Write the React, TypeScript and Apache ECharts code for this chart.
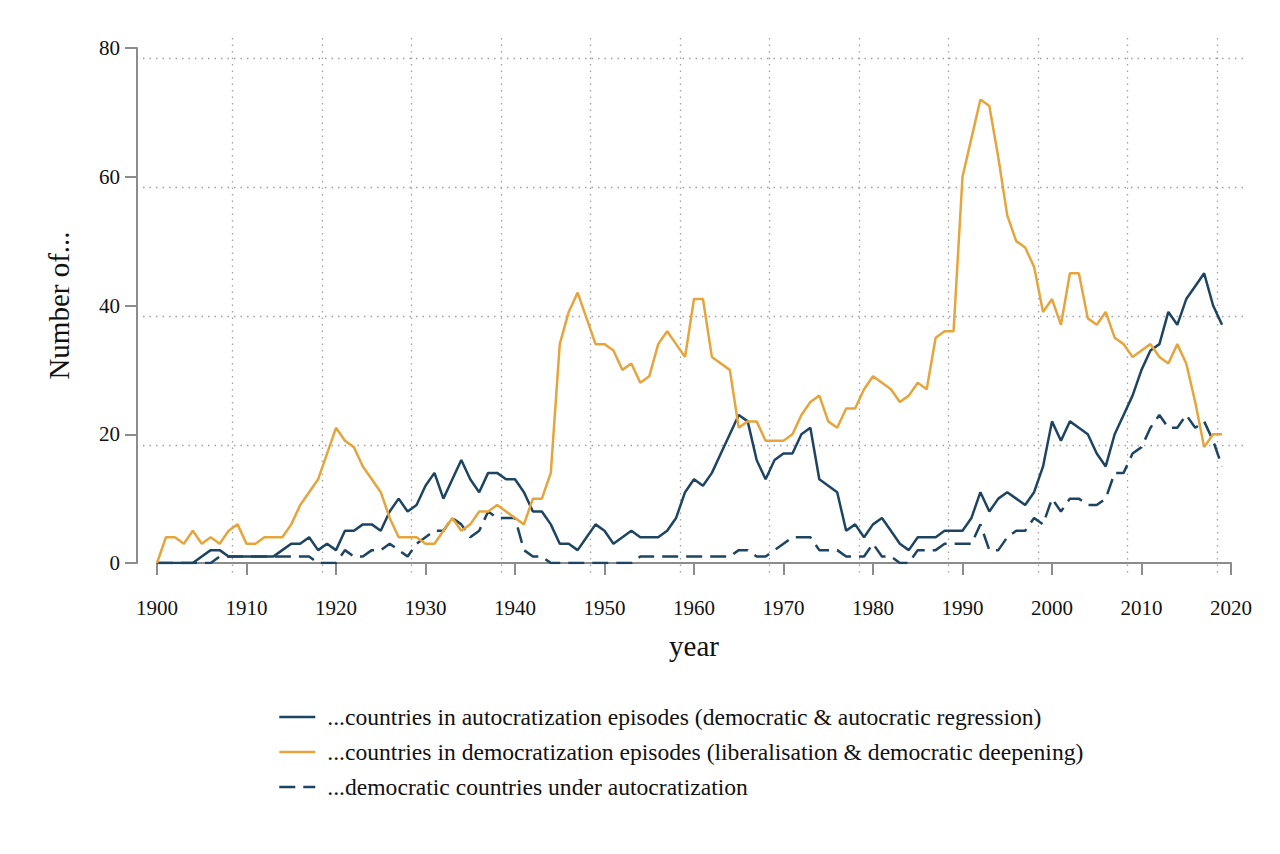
import React, { useEffect, useRef } from "react";
import * as echarts from "echarts";

const years: number[] = [];
for (let y = 1900; y <= 2019; y++) years.push(y);

const autocratization = [
  0, 0, 0, 0, 0, 1, 2, 2, 1, 1,
  1, 1, 1, 1, 2, 3, 3, 4, 2, 3,
  2, 5, 5, 6, 6, 5, 8, 10, 8, 9,
  12, 14, 10, 13, 16, 13, 11, 14, 14, 13,
  13, 11, 8, 8, 6, 3, 3, 2, 4, 6,
  5, 3, 4, 5, 4, 4, 4, 5, 7, 11,
  13, 12, 14, 17, 20, 23, 22, 16, 13, 16,
  17, 17, 20, 21, 13, 12, 11, 5, 6, 4,
  6, 7, 5, 3, 2, 4, 4, 4, 5, 5,
  5, 7, 11, 8, 10, 11, 10, 9, 11, 15,
  22, 19, 22, 21, 20, 17, 15, 20, 23, 26,
  30, 33, 34, 39, 37, 41, 43, 45, 40, 37,
];

const democratization = [
  0, 4, 4, 3, 5, 3, 4, 3, 5, 6,
  3, 3, 4, 4, 4, 6, 9, 11, 13, 17,
  21, 19, 18, 15, 13, 11, 7, 4, 4, 4,
  3, 3, 5, 7, 5, 6, 8, 8, 9, 8,
  7, 6, 10, 10, 14, 34, 39, 42, 38, 34,
  34, 33, 30, 31, 28, 29, 34, 36, 34, 32,
  41, 41, 32, 31, 30, 21, 22, 22, 19, 19,
  19, 20, 23, 25, 26, 22, 21, 24, 24, 27,
  29, 28, 27, 25, 26, 28, 27, 35, 36, 36,
  60, 66, 72, 71, 63, 54, 50, 49, 46, 39,
  41, 37, 45, 45, 38, 37, 39, 35, 34, 32,
  33, 34, 32, 31, 34, 31, 25, 18, 20, 20,
];

const democraticUnderAutocratization = [
  0, 0, 0, 0, 0, 0, 0, 1, 1, 1,
  1, 1, 1, 1, 1, 1, 1, 1, 0, 0,
  0, 2, 1, 1, 2, 2, 3, 2, 1, 3,
  4, 5, 5, 7, 6, 4, 5, 8, 7, 7,
  7, 2, 1, 1, 0, 0, 0, 0, 0, 0,
  0, 0, 0, 0, 1, 1, 1, 1, 1, 1,
  1, 1, 1, 1, 1, 2, 2, 1, 1, 2,
  3, 4, 4, 4, 2, 2, 2, 1, 1, 1,
  3, 1, 1, 0, 0, 2, 2, 2, 3, 3,
  3, 3, 6, 2, 2, 4, 5, 5, 7, 6,
  10, 8, 10, 10, 9, 9, 10, 14, 14, 17,
  18, 21, 23, 21, 21, 23, 21, 22, 19, 15,
];

const seriesNames = [
  "...countries in autocratization episodes (democratic & autocratic regression)",
  "...countries in democratization episodes (liberalisation & democratic deepening)",
  "...democratic countries under autocratization",
];

const xTitle = "year";
const yTitle = "Number of...";

const BLUE = "#1d4562";
const ORANGE = "#e6a53c";
const FONT = "Liberation Serif";

const pair = (vals: number[]) => years.map((y, i) => [y, vals[i]]);

export default function App() {
  const ref = useRef<HTMLDivElement>(null);
  useEffect(() => {
    if (!ref.current) return;
    const chart = echarts.init(ref.current, null, { renderer: "svg" });
    const gridDot = { color: "#a0a0a0", width: 1.3, type: [1.5, 5] as number[] };
    chart.setOption({
      animation: false,
      backgroundColor: "#ffffff",
      textStyle: { fontFamily: FONT },
      grid: [
        { left: 157, right: 49, top: 48, bottom: 291, containLabel: false },
        { left: 143, right: 35, top: 38, bottom: 279, containLabel: false },
      ],
      xAxis: [
        {
          type: "value",
          gridIndex: 0,
          min: 1900,
          max: 2020,
          interval: 10,
          offset: 20,
          axisLine: { show: true, lineStyle: { color: "#8c8c8c", width: 2 } },
          axisTick: { show: true, length: 12, lineStyle: { color: "#8c8c8c", width: 2 } },
          axisLabel: {
            color: "#111",
            fontSize: 21,
            fontFamily: FONT,
            margin: 14,
            formatter: (v: number) => String(v),
          },
          splitLine: { show: false },
          name: xTitle,
          nameLocation: "middle",
          nameGap: 48,
          nameTextStyle: { color: "#111", fontSize: 29, fontFamily: FONT },
        },
        {
          type: "value",
          gridIndex: 1,
          min: 1900 - 14 / 8.95,
          max: 2020 + 14 / 8.95,
          interval: 10,
          axisLine: { show: false },
          axisTick: { show: false },
          axisLabel: { show: false },
          splitLine: { show: true, showMinLine: false, showMaxLine: false, lineStyle: gridDot },
        },
      ],
      yAxis: [
        {
          type: "value",
          gridIndex: 0,
          min: 0,
          max: 80,
          interval: 20,
          offset: 20,
          axisLine: { show: true, lineStyle: { color: "#8c8c8c", width: 2 } },
          axisTick: { show: true, length: 12, lineStyle: { color: "#8c8c8c", width: 2 } },
          axisLabel: { color: "#111", fontSize: 21, fontFamily: FONT, margin: 17 },
          splitLine: { show: false },
          name: yTitle,
          nameLocation: "middle",
          nameGap: 64,
          nameTextStyle: { color: "#111", fontSize: 29, fontFamily: FONT },
        },
        {
          type: "value",
          gridIndex: 1,
          min: -10 / 6.4375,
          max: 80 + 10 / 6.4375,
          interval: 20,
          axisLine: { show: false },
          axisTick: { show: false },
          axisLabel: { show: false },
          splitLine: { show: true, showMinLine: false, showMaxLine: false, lineStyle: gridDot },
        },
      ],
      legend: {
        orient: "vertical",
        left: 278,
        top: 705,
        padding: 0,
        itemWidth: 36,
        itemHeight: 14,
        itemGap: 11,
        data: seriesNames,
        itemStyle: { opacity: 0 },
        lineStyle: { width: 2.6 },
        textStyle: { color: "#111", fontSize: 23.6, fontFamily: FONT, padding: [0, 0, 0, 7] },
      },
      series: [
        {
          name: seriesNames[0],
          type: "line",
          xAxisIndex: 0,
          yAxisIndex: 0,
          data: pair(autocratization),
          showSymbol: false,
          symbol: "none",
          lineStyle: { color: BLUE, width: 2.5 },
          itemStyle: { color: BLUE },
          z: 3,
        },
        {
          name: seriesNames[1],
          type: "line",
          xAxisIndex: 0,
          yAxisIndex: 0,
          data: pair(democratization),
          showSymbol: false,
          symbol: "none",
          lineStyle: { color: ORANGE, width: 2.5 },
          itemStyle: { color: ORANGE },
          z: 4,
        },
        {
          name: seriesNames[2],
          type: "line",
          xAxisIndex: 0,
          yAxisIndex: 0,
          data: pair(democraticUnderAutocratization),
          showSymbol: false,
          symbol: "none",
          lineStyle: { color: BLUE, width: 2.5, type: [16, 8] },
          itemStyle: { color: BLUE },
          z: 3,
        },
      ],
    });
    return () => chart.dispose();
  }, []);
  return (
    <div
      ref={ref}
      style={{ position: "fixed", left: 0, top: 0, width: 1280, height: 854, background: "#fff" }}
    />
  );
}
